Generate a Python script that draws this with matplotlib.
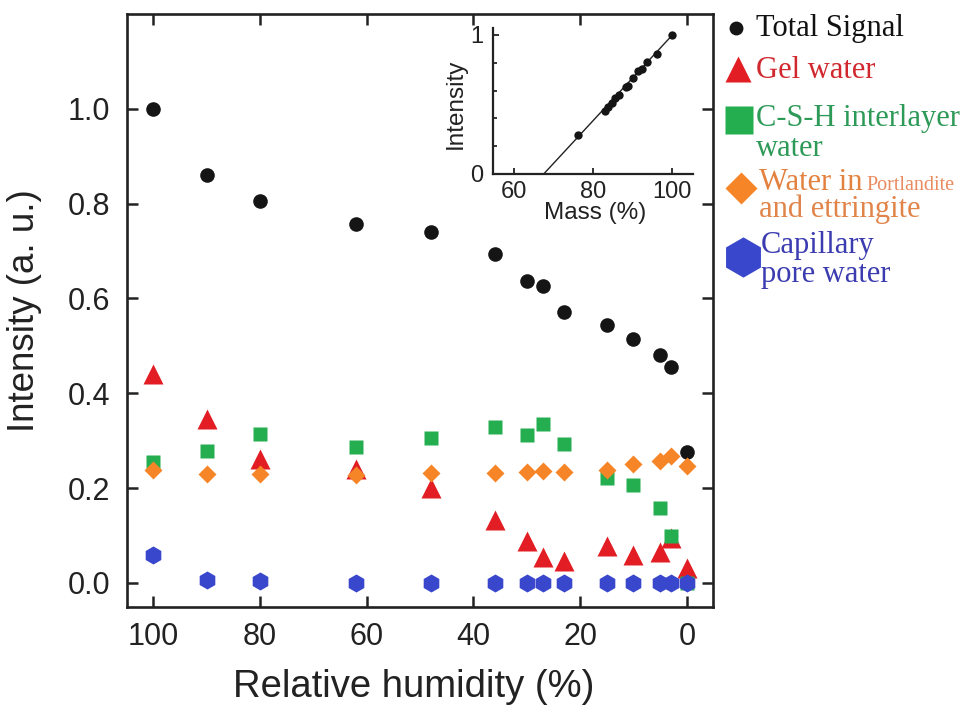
import numpy as np
import matplotlib
matplotlib.use("Agg")
import matplotlib.pyplot as plt
from matplotlib.ticker import MultipleLocator

plt.rcParams['font.family'] = ['Liberation Sans', 'DejaVu Sans']

# relative humidity steps (%)
rh = [100, 90, 80, 62, 48, 36, 30, 27, 23, 15, 10, 5, 3, 0]

# NMR intensities (a. u.)
total = [1.0, 0.86, 0.806, 0.757, 0.741, 0.693, 0.636, 0.626, 0.571, 0.544, 0.514, 0.48, 0.455, 0.275]
gel = [0.441, 0.345, 0.262, 0.241, 0.199, 0.133, 0.089, 0.055, 0.045, 0.078, 0.059, 0.066, 0.094, 0.031]
csh = [0.255, 0.279, 0.313, 0.287, 0.305, 0.328, 0.311, 0.335, 0.293, 0.222, 0.206, 0.157, 0.098, 0.0]
portl = [0.239, 0.229, 0.229, 0.227, 0.232, 0.232, 0.234, 0.235, 0.234, 0.239, 0.25, 0.257, 0.267, 0.246]
capil = [0.059, 0.006, 0.003, 0.0, 0.0, 0.0, 0.0, 0.0, 0.0, 0.0, 0.0, 0.0, 0.0, 0.0]

# inset: total signal vs mass
mass = [100, 96.2, 93.7, 92.3, 91.2, 90.1, 88.7, 88.2, 86.6, 85.6, 84.8, 83.8, 83.0, 76.2]
mass_int = [1.0, 0.865, 0.805, 0.752, 0.74, 0.692, 0.636, 0.626, 0.571, 0.544, 0.514, 0.48, 0.455, 0.277]
fit_x = [67.5, 100]
fit_y = [0.0, 1.0]

c_black = '#151515'
c_red = '#e21e24'
c_green = '#25ae50'
c_orange = '#f68528'
c_blue = '#3947cc'

fig = plt.figure(figsize=(9.72, 7.10), dpi=100)
ax = fig.add_axes([127 / 972, 103 / 710, 586 / 972, 593 / 710])

ax.plot(rh, total, 'o', color=c_black, ms=10.5, mec='none', zorder=3)
ax.plot(rh, gel, '^', color=c_red, ms=15, mec='none', zorder=3)
ax.plot(rh, csh, 's', color=c_green, ms=10, mec='none', zorder=4)
ax.plot(rh, portl, 'D', color=c_orange, ms=9, mec='none', zorder=5)
ax.plot(rh, capil, 'h', color=c_blue, ms=13, mec='none', zorder=6)

ax.set_xlim(104.9, -4.9)
ax.set_ylim(-0.051, 1.2)
ax.set_xticks([100, 80, 60, 40, 20, 0])
ax.set_yticks([0.0, 0.2, 0.4, 0.6, 0.8, 1.0])
ax.set_yticklabels(['0.0', '0.2', '0.4', '0.6', '0.8', '1.0'])
ax.tick_params(direction='in', length=8, width=1.8, labelsize=22,
               top=True, right=True, color='#222222', labelcolor='#222222')
ax.tick_params(axis='y', pad=12)
ax.tick_params(axis='x', pad=11)
for s in ax.spines.values():
    s.set_linewidth(1.9)
    s.set_color('#222222')

ax.set_xlabel('Relative humidity (%)', fontsize=27.5, color='#222222')
ax.set_ylabel('Intensity (a. u.)', fontsize=26.5, color='#222222')
ax.xaxis.set_label_coords(0.49, -0.105)
ax.yaxis.set_label_coords(-0.145, 0.5)

# inset
ins = fig.add_axes([493 / 972, 536 / 710, 200 / 972, 146 / 710])
ins.plot(fit_x, fit_y, '-', color='#222222', lw=1.0)
ins.plot(mass, mass_int, 'o', color=c_black, ms=6, mec='none')
ins.set_xlim(54.7, 105.2)
ins.set_ylim(0, 1.05)
ins.set_xticks([60, 80, 100])
ins.set_yticks([0, 1])
ins.yaxis.set_minor_locator(MultipleLocator(0.2))
ins.spines['top'].set_visible(False)
ins.spines['right'].set_visible(False)
for s in ['left', 'bottom']:
    ins.spines[s].set_linewidth(1.6)
    ins.spines[s].set_color('#222222')
ins.tick_params(direction='in', length=4, width=1.3, labelsize=17,
                color='#222222', labelcolor='#222222')
ins.tick_params(which='minor', direction='in', length=3, width=1.1)
ins.tick_params(axis='x', pad=5)
ins.tick_params(axis='y', pad=7)
ins.set_xlabel('Mass (%)', fontsize=17.5, color='#222222')
ins.set_ylabel('Intensity', fontsize=17.5, color='#222222')
ins.xaxis.set_label_coords(0.51, -0.19)
ins.yaxis.set_label_coords(-0.13, 0.48)

# legend drawn by hand on an overlay (pixel coordinates)
lax = fig.add_axes([0, 0, 1, 1])
lax.set_xlim(0, 972)
lax.set_ylim(710, 0)
lax.axis('off')
serif = ['Liberation Serif', 'DejaVu Serif']
fs = 22

lax.plot(735.5, 27.5, 'o', color=c_black, ms=10, mec='none')
lax.text(756, 36, 'Total Signal', fontsize=fs, family=serif, color='#111111', va='baseline')

lax.plot(738, 69, '^', color=c_red, ms=19, mec='none')
lax.text(756, 78, 'Gel water', fontsize=fs, family=serif, color='#d0282e', va='baseline')

lax.plot(739, 120, 's', color=c_green, ms=19.5, mec='none')
lax.text(756, 126, 'C-S-H interlayer', fontsize=fs, family=serif, color='#2e9a58', va='baseline')
lax.text(756, 156, 'water', fontsize=fs, family=serif, color='#2e9a58', va='baseline')

lax.plot(741, 188, 'D', color=c_orange, ms=16, mec='none')
lax.text(759, 190, 'Water in', fontsize=fs, family=serif, color='#e3823f', va='baseline')
lax.text(866, 190, 'Portlandite', fontsize=14.5, family=serif, color='#e88a5e', va='baseline')
lax.text(759, 217, 'and ettringite', fontsize=fs, family=serif, color='#e0844a', va='baseline')

lax.plot(743, 257, 'h', color=c_blue, ms=29, mec='none')
lax.text(761, 253, 'Capillary', fontsize=fs, family=serif, color='#3b3cb0', va='baseline')
lax.text(761, 282, 'pore water', fontsize=fs, family=serif, color='#3b3cb0', va='baseline')

fig.savefig('out.png', dpi=100)
